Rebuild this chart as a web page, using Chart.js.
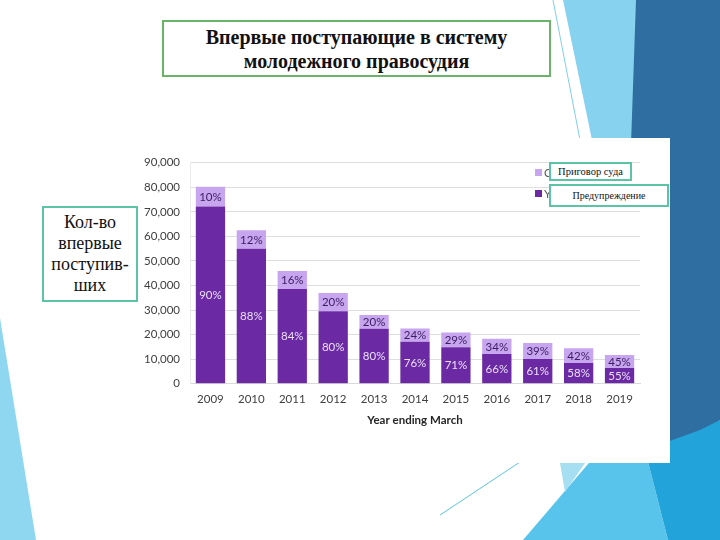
<!DOCTYPE html>
<html>
<head>
<meta charset="utf-8">
<script src="https://cdn.jsdelivr.net/npm/chart.js@4.4.1/dist/chart.umd.min.js"></script>
<style>
  html, body { margin:0; padding:0; background:#fff; }
  #slide { position:relative; width:720px; height:540px; overflow:hidden; background:#fff; }
  #bg { position:absolute; left:0; top:0; }
  #chartBox { position:absolute; left:138px; top:138px; width:532px; height:325px; background:#fff; }
  .box { position:absolute; background:#fff; box-sizing:border-box; font-family:"Liberation Serif","Times New Roman",serif; color:#111; text-align:center; }
  #title { left:162px; top:20px; width:389px; height:57px; border:2px solid #6ab46a; font-weight:bold; font-size:20px; line-height:24px; padding-top:3px; }
  #side { left:42px; top:206px; width:96px; height:96px; border:2px solid #5cc3a4; font-size:18px; line-height:21px; padding-top:4px; }
  #lg1 { left:549px; top:162px; width:83px; height:19px; border:2px solid #5cc3a4; font-size:10.5px; line-height:15px; }
  #lg2 { left:549px; top:184px; width:120px; height:23px; border:2px solid #5cc3a4; font-size:10px; line-height:19px; }
</style>
</head>
<body>
<div id="slide">
  <svg id="bg" width="720" height="540" viewBox="0 0 720 540">
    <polygon points="0,318 36,540 0,540" fill="#8fd7f1"/>
    <polygon points="563,0 637,0 660,140 592,140" fill="#86d2ef"/>
    <line x1="553" y1="0" x2="580" y2="140" stroke="#7fcfea" stroke-width="1"/>
    <polygon points="636,0 720,0 720,420 680,463 620,463" fill="#2f6ea0"/>
    <polygon points="523,540 600,450 645,450 668,540" fill="#58c4eb"/>
    <polygon points="645,450 700,430 720,420 720,540 668,540" fill="#22a3da"/>
    <polygon points="560,463 585,463 565,492" fill="#a6def2"/>
    <line x1="440" y1="515" x2="520" y2="462" stroke="#5bc5e0" stroke-width="1"/>
  </svg>
  <div id="chartBox"><canvas id="c"></canvas></div>
  <div class="box" id="title">Впервые поступающие в систему<br>молодежного правосудия</div>
  <div class="box" id="side">Кол-во<br>впервые<br>поступив-<br>ших</div>
  <div class="box" id="lg1">Приговор суда</div>
  <div class="box" id="lg2">Предупреждение</div>
</div>
<script>
const years = ['2009','2010','2011','2012','2013','2014','2015','2016','2017','2018','2019'];
const cautions = [72200, 55000, 38600, 29500, 22400, 17100, 14800, 12100, 10100, 8400, 6400];
const court = [8000, 7500, 7300, 7400, 5600, 5400, 6000, 6200, 6500, 6000, 5300];
const cautionPct = ['90%','88%','84%','80%','80%','76%','71%','66%','61%','58%','55%'];
const courtPct = ['10%','12%','16%','20%','20%','24%','29%','34%','39%','42%','45%'];
const yMax = 90000;
const yStep = 10000;
const seriesNames = ['Youth cautions', 'Court sentences'];

const FONT = 'Lato, "Open Sans", sans-serif';

const segLabels = {
  id: 'segLabels',
  afterDatasetsDraw(chart) {
    const ctx = chart.ctx;
    ctx.save();
    ctx.font = '11.5px ' + FONT;
    ctx.textAlign = 'center';
    ctx.textBaseline = 'middle';
    chart.data.datasets.forEach((ds, di) => {
      const meta = chart.getDatasetMeta(di);
      meta.data.forEach((el, i) => {
        const y = (el.y + el.base) / 2;
        ctx.fillStyle = ds.labelColor;
        ctx.fillText(ds.pct[i], el.x, y + 0.5);
      });
    });
    ctx.restore();
  }
};

const miniLegend = {
  id: 'miniLegend',
  afterDraw(chart) {
    const ctx = chart.ctx;
    ctx.save();
    ctx.font = '11.5px ' + FONT;
    ctx.textBaseline = 'middle';
    const order = [1, 0];
    order.forEach((di, k) => {
      const ds = chart.data.datasets[di];
      const y = 31 + k * 21;
      ctx.fillStyle = ds.backgroundColor;
      ctx.fillRect(397, y, 7, 7);
      ctx.fillStyle = '#595959';
      ctx.fillText(ds.label, 406, y + 4);
    });
    ctx.restore();
  }
};

new Chart(document.getElementById('c'), {
  type: 'bar',
  data: {
    labels: years,
    datasets: [
      { label: seriesNames[0], data: cautions, pct: cautionPct, backgroundColor: '#6b2aa3', labelColor: '#eadff6',
        categoryPercentage: 1, barPercentage: 0.716 },
      { label: seriesNames[1], data: court, pct: courtPct, backgroundColor: '#c7a5ef', labelColor: '#3a1f60',
        categoryPercentage: 1, barPercentage: 0.716 }
    ]
  },
  options: {
    responsive: true,
    maintainAspectRatio: false,
    animation: false,
    devicePixelRatio: 1,
    layout: { padding: { top: 24.7, right: 30, bottom: 0, left: 0 } },
    plugins: { legend: { display: false }, tooltip: { enabled: false } },
    scales: {
      x: {
        stacked: true,
        grid: { display: false, drawTicks: false },
        border: { display: true, color: '#d9d9d9' },
        ticks: { color: '#404040', font: { family: FONT, size: 11.5 }, padding: 9, maxRotation: 0 },
        title: { display: true, text: 'Year ending March', color: '#262626',
                 font: { family: FONT, size: 11.5, weight: 'bold' }, padding: { top: 4, bottom: 36 } },
        afterFit(scale) { scale.height = 79.3; }
      },
      y: {
        stacked: true,
        min: 0, max: yMax,
        grid: { color: '#dedede', drawTicks: false },
        border: { display: true, color: '#ececec' },
        ticks: { stepSize: yStep, color: '#404040', font: { family: FONT, size: 11.5 }, padding: 10,
                 callback: v => v.toLocaleString('en-US') },
        afterFit(scale) { scale.width = 52; }
      }
    }
  },
  plugins: [segLabels, miniLegend]
});
</script>
</body>
</html>
